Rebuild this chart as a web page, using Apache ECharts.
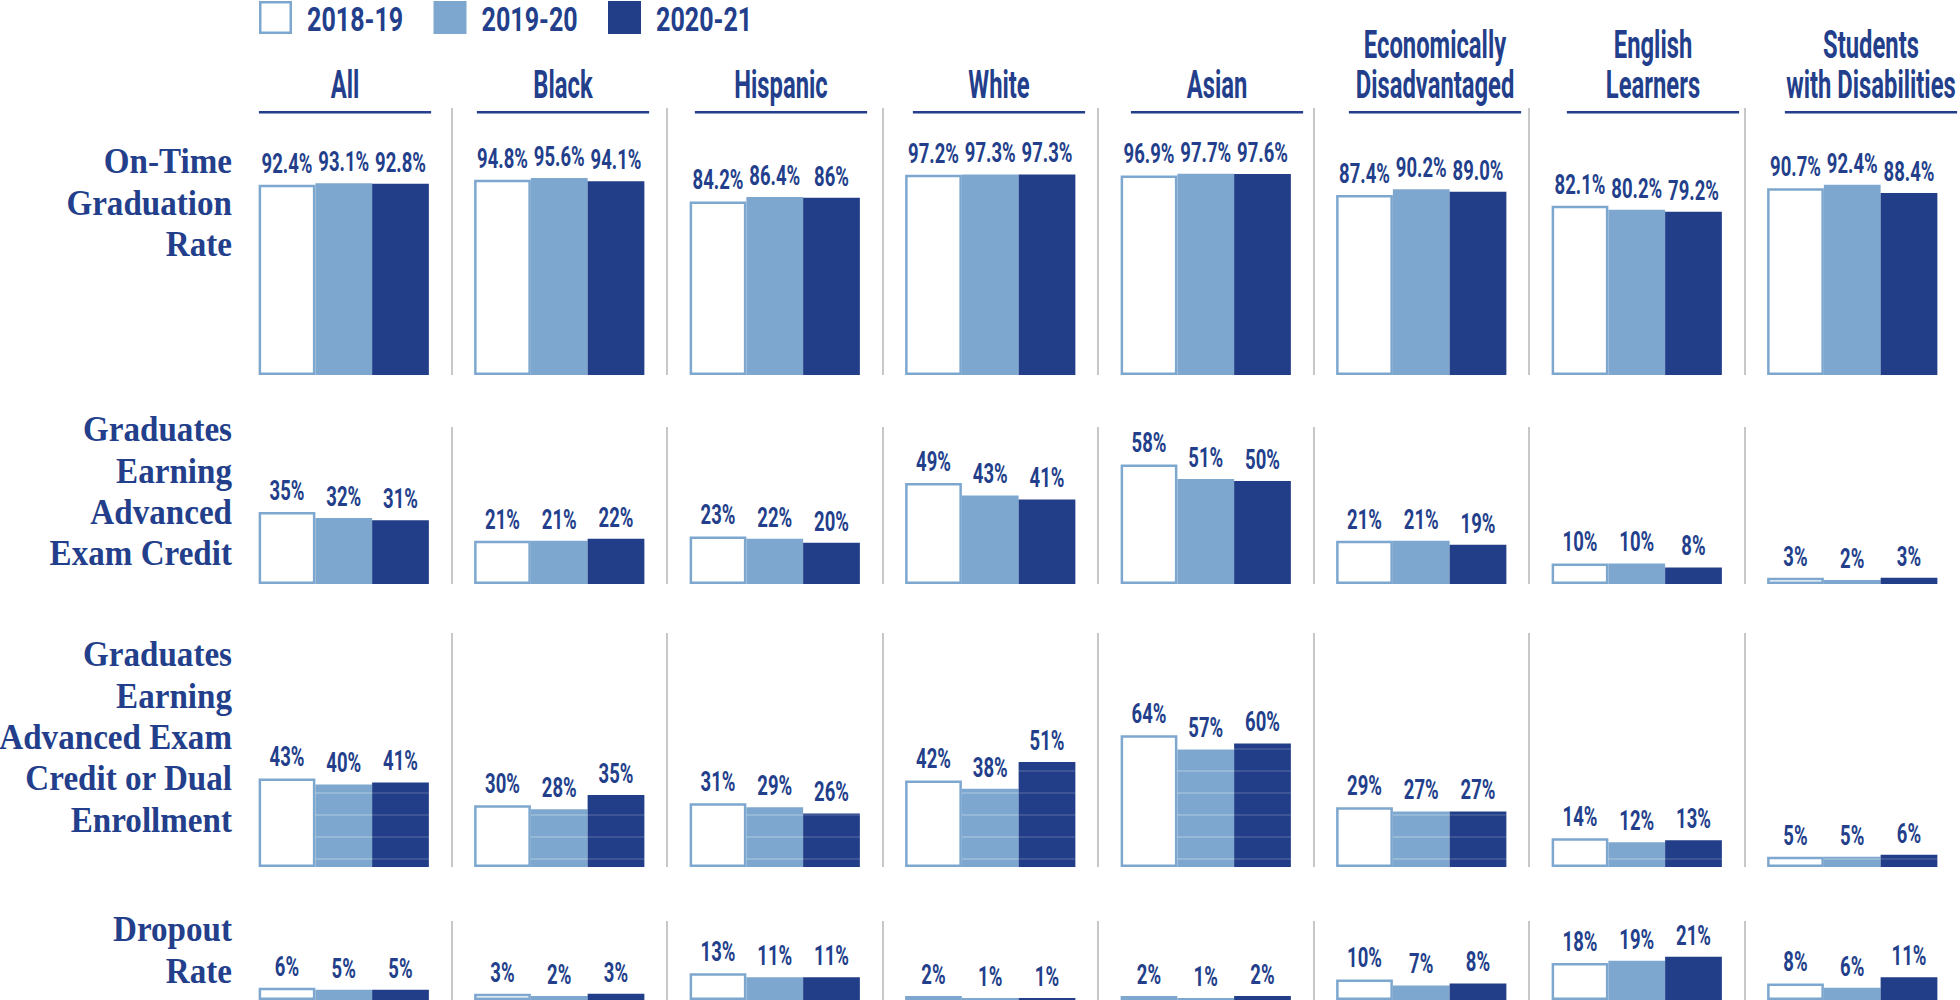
<!DOCTYPE html>
<html><head><meta charset="utf-8">
<script src="https://cdn.jsdelivr.net/npm/echarts@6/dist/echarts.min.js"></script>
<style>html,body{margin:0;padding:0;background:#fff;} #c{width:1960px;height:1000px;}</style>
</head><body><div id="c"></div>
<script>
// ---------- data ----------
const categories = ['All', 'Black', 'Hispanic', 'White', 'Asian', 'Economically\nDisadvantaged', 'English\nLearners', 'Students\nwith Disabilities'];
const years = ['2018-19', '2019-20', '2020-21'];
const metrics = ['On-Time\nGraduation\nRate', 'Graduates\nEarning\nAdvanced\nExam Credit', 'Graduates\nEarning\nAdvanced Exam\nCredit or Dual\nEnrollment', 'Dropout\nRate'];

const onTime1819 = ['92.4', '94.8', '84.2', '97.2', '96.9', '87.4', '82.1', '90.7'];
const onTime1920 = ['93.1', '95.6', '86.4', '97.3', '97.7', '90.2', '80.2', '92.4'];
const onTime2021 = ['92.8', '94.1', '86', '97.3', '97.6', '89.0', '79.2', '88.4'];

const advExam1819 = [35, 21, 23, 49, 58, 21, 10, 3];
const advExam1920 = [32, 21, 22, 43, 51, 21, 10, 2];
const advExam2021 = [31, 22, 20, 41, 50, 19, 8, 3];

const advDual1819 = [43, 30, 31, 42, 64, 29, 14, 5];
const advDual1920 = [40, 28, 29, 38, 57, 27, 12, 5];
const advDual2021 = [41, 35, 26, 51, 60, 27, 13, 6];

const dropout1819 = [6, 3, 13, 2, 2, 10, 18, 8];
const dropout1920 = [5, 2, 11, 1, 1, 7, 19, 6];
const dropout2021 = [5, 3, 11, 1, 2, 8, 21, 11];

const rowSeries = [
  [onTime1819, onTime1920, onTime2021],
  [advExam1819, advExam1920, advExam2021],
  [advDual1819, advDual1920, advDual2021],
  [dropout1819, dropout1920, dropout2021]
];

// ---------- style / layout ----------
const NAVY = '#233F8B', LIGHT = '#7DA7CE', DARK = '#233E88', GRAY = '#C8C8C8';
const SANS = "Roboto, 'DejaVu Sans Condensed', sans-serif";
const SERIF = "'Liberation Serif', 'Times New Roman', serif";
const GRID_LEFT = 236, BAND = 218, PPU = 2.06, CAT_GAP = 0.21;
const rowsLayout = [
  { top: 108, bottom: 375, labelBase: 173 },
  { top: 427, bottom: 584, labelBase: 441 },
  { top: 633, bottom: 867, labelBase: 666 },
  { top: 921, bottom: 1000, labelBase: 941 }
];
const VAL_FONT = 28, VAL_SX = 0.66, VAL_GAP = 12;
const HEAD_FONT = 39, HEAD_SX = 0.61;
const ROW_FONT = 36, ROW_SX = 0.92, ROW_LH = 41.3;
const LEG_FONT = 33, LEG_SX = 0.76, LEG_BASE = 31;

const baseStyles = [
  { color: '#FFFFFF', borderColor: LIGHT, borderWidth: 2.5 },
  { color: LIGHT },
  { color: DARK }
];
const decalColors = [null, 'rgba(255,255,255,0.2)', 'rgba(255,255,255,0.12)'];

const grids = [], xAxes = [], yAxes = [], series = [];
rowsLayout.forEach((r, i) => {
  grids.push({ left: GRID_LEFT, width: BAND * categories.length, top: r.top, height: r.bottom - r.top });
  xAxes.push({
    type: 'category', gridIndex: i, data: categories, position: 'top',
    axisLine: { show: false }, axisTick: { show: false }, axisLabel: { show: false },
    splitLine: { show: true, showMinLine: false, showMaxLine: false, lineStyle: { color: GRAY, width: 2 } }
  });
  yAxes.push({ type: 'value', gridIndex: i, min: 0, max: (r.bottom - r.top) / PPU, show: false });
});

// bars
years.forEach((y, k) => {
  rowSeries.forEach((row, i) => {
    const vals = row[k];
    const style = Object.assign({}, baseStyles[k]);
    if (i === 2 && decalColors[k]) {
      style.decal = { symbol: 'rect', symbolSize: 1, dashArrayX: [4, 0], dashArrayY: [1.2, 20], rotation: 0, color: decalColors[k] };
    }
    series.push({
      type: 'bar', name: y, xAxisIndex: i, yAxisIndex: i,
      data: vals.map(Number),
      barGap: '0%', barCategoryGap: (CAT_GAP * 100) + '%',
      itemStyle: style, label: { show: false },
      emphasis: { disabled: true }, animation: false
    });
  });
});

// value labels (condensed text placed through the axes' scales)
years.forEach((y, k) => {
  rowSeries.forEach((row, i) => {
    const vals = row[k];
    series.push({
      type: 'custom', xAxisIndex: i, yAxisIndex: i, silent: true, z: 10,
      data: vals.map((v, j) => [j, Number(v)]),
      encode: { x: 0, y: 1 },
      renderItem: (params, api) => {
        const pt = api.coord([api.value(0), api.value(1)]);
        const band = api.size([1, 0])[0];
        const bw = band * (1 - CAT_GAP) / 3;
        return {
          type: 'text', x: pt[0] + (k - 1) * bw, y: pt[1] - VAL_GAP - 0.342 * VAL_FONT, scaleX: VAL_SX,
          style: { text: String(vals[params.dataIndex]) + '%', fill: NAVY, font: 'bold ' + VAL_FONT + 'px ' + SANS,
                   align: 'center', verticalAlign: 'middle', textAlign: 'center', textVerticalAlign: 'middle' }
        };
      }
    });
  });
});

const graphic = [];
// legend
years.forEach((y, k) => {
  const bx = 259 + k * 174.5;
  const st = k === 0 ? { fill: '#FFFFFF', stroke: LIGHT, lineWidth: 2.5 } : { fill: baseStyles[k].color };
  const inset = k === 0 ? 1.25 : 0;
  graphic.push({ type: 'rect', silent: true, shape: { x: bx + inset, y: 1 + inset, width: 33 - 2 * inset, height: 33 - 2 * inset }, style: st });
  graphic.push({ type: 'text', silent: true, x: bx + 48, y: LEG_BASE - 0.342 * LEG_FONT, scaleX: LEG_SX,
    style: { text: y, fill: NAVY, font: 'bold ' + LEG_FONT + 'px ' + SANS, align: 'left', verticalAlign: 'middle', textAlign: 'left', textVerticalAlign: 'middle' } });
});
// column headers + underlines
categories.forEach((c, j) => {
  const cx = GRID_LEFT + j * BAND + BAND / 2;
  const lines = c.split('\n');
  lines.forEach((ln, m) => {
    const base = 98.5 - (lines.length - 1 - m) * 40;
    graphic.push({ type: 'text', silent: true, x: cx, y: base - 0.342 * HEAD_FONT, scaleX: HEAD_SX,
      style: { text: ln, fill: NAVY, font: 'bold ' + HEAD_FONT + 'px ' + SANS, align: 'center', verticalAlign: 'middle', textAlign: 'center', textVerticalAlign: 'middle' } });
  });
  graphic.push({ type: 'rect', silent: true, shape: { x: GRID_LEFT + j * BAND + BAND * CAT_GAP / 2, y: 111, width: BAND * (1 - CAT_GAP), height: 2.5 }, style: { fill: NAVY } });
});
// row labels
metrics.forEach((mtxt, i) => {
  mtxt.split('\n').forEach((ln, m) => {
    const base = rowsLayout[i].labelBase + m * ROW_LH;
    graphic.push({ type: 'text', silent: true, x: 232, y: base - 0.3375 * ROW_FONT, scaleX: ROW_SX,
      style: { text: ln, fill: NAVY, font: 'bold ' + ROW_FONT + 'px ' + SERIF, align: 'right', verticalAlign: 'middle', textAlign: 'right', textVerticalAlign: 'middle' } });
  });
});

const chart = echarts.init(document.getElementById('c'), null, { renderer: 'svg', width: 1960, height: 1000 });
chart.setOption({
  backgroundColor: '#FFFFFF',
  animation: false,
  grid: grids, xAxis: xAxes, yAxis: yAxes, series: series, graphic: graphic
});
</script></body></html>
